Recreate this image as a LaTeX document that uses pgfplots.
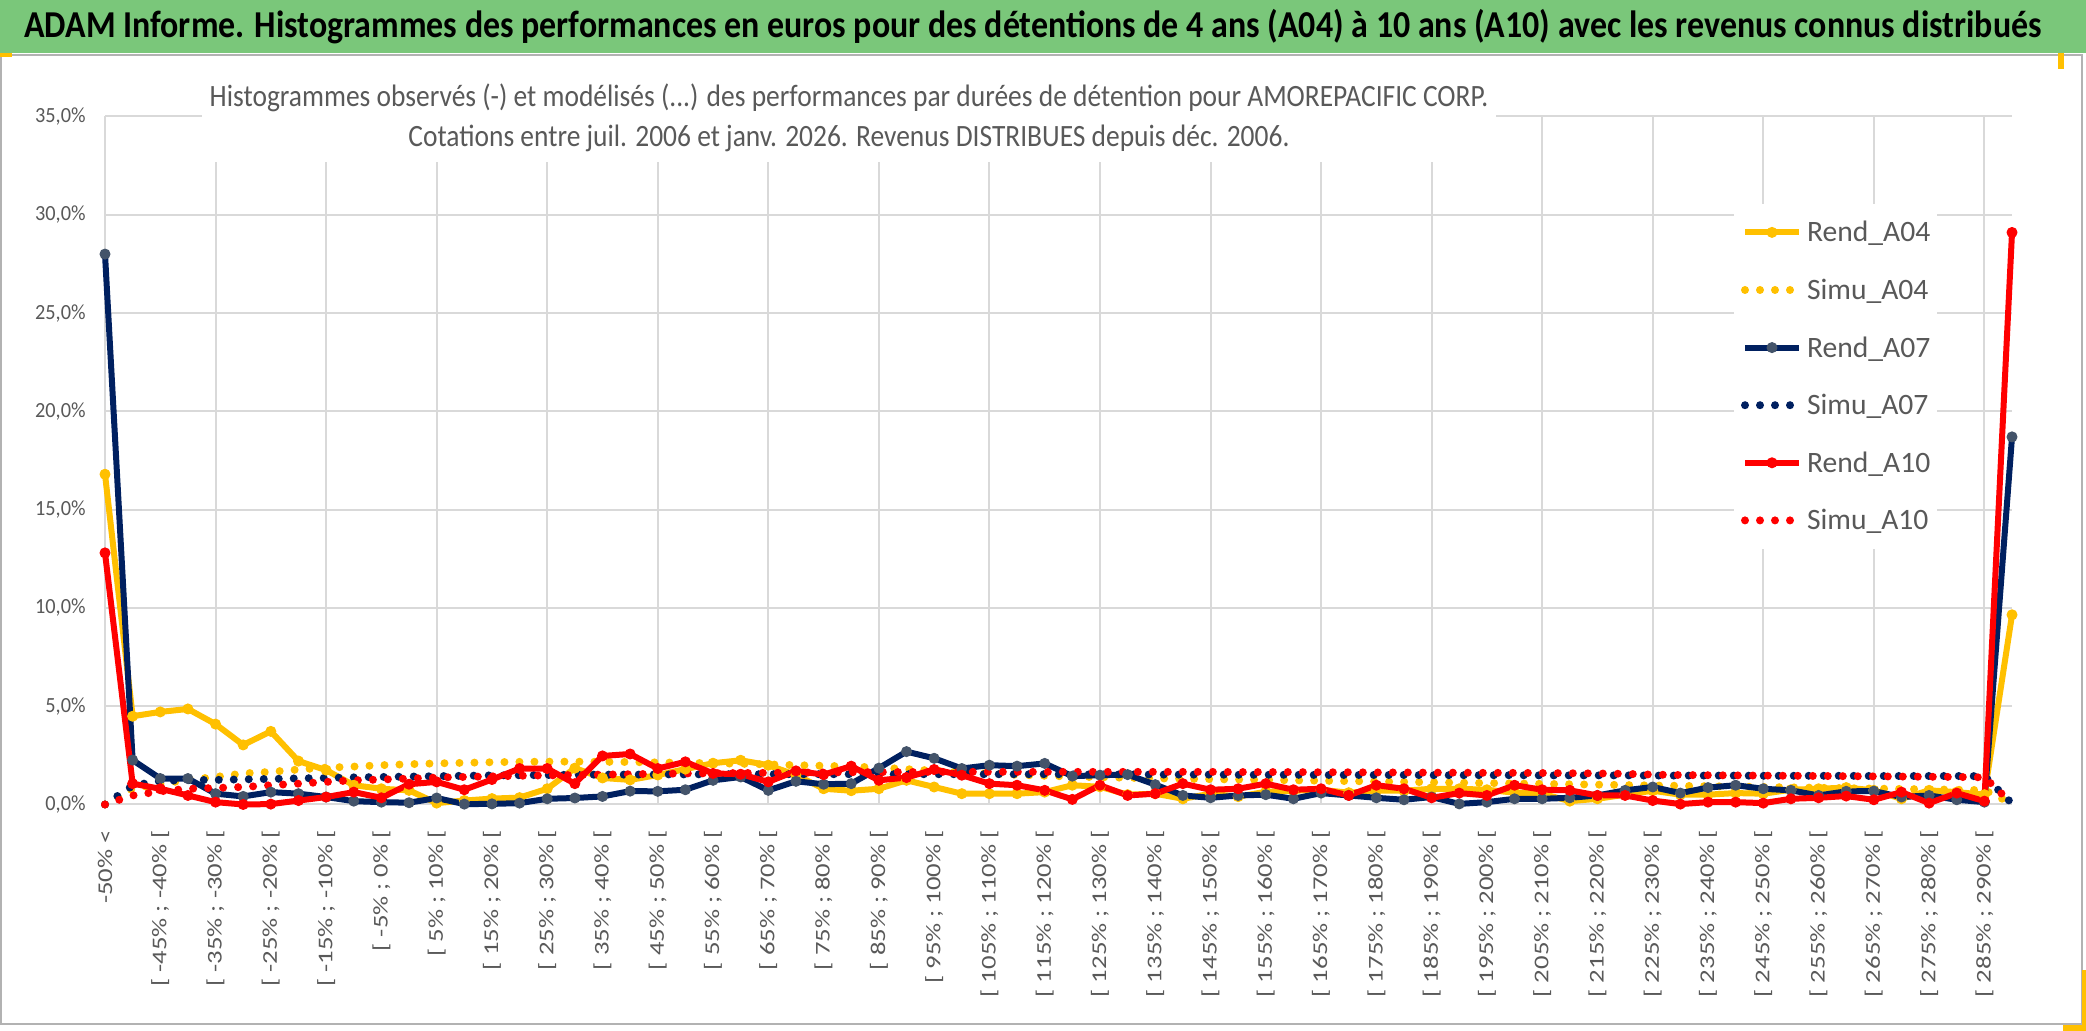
\documentclass[border=0pt]{standalone}
\usepackage{pgfplots}
\pgfplotsset{compat=1.18}
\usepackage{pgfplotstable}
\usepackage{fontspec}
\setmainfont{Carlito}
\newfontfamily\mtfam{Carlito}[FakeStretch=0.893]
\newfontfamily\ctfam{Carlito}[FakeStretch=0.886]
\newfontfamily\yfam{Carlito}[FakeStretch=0.94]
\newfontfamily\xfam{Carlito}[FakeStretch=1.27]
\newcommand\mtfont{\mtfam\bfseries\fontsize{19pt}{22pt}\selectfont}
\newcommand\ctfont{\ctfam\fontsize{15.5pt}{20pt}\selectfont}
\newcommand\yfont{\yfam\fontsize{10.8pt}{12pt}\selectfont}
\newcommand\xfont{\xfam\fontsize{10.5pt}{12pt}\selectfont}
\newcommand\legfont{\fontsize{14.8pt}{16pt}\selectfont}
\definecolor{ay}{HTML}{FFC000}
\definecolor{navy}{HTML}{002060}
\definecolor{slate}{HTML}{44546A}
\definecolor{rd}{HTML}{FF0000}
\definecolor{gridc}{HTML}{D9D9D9}
\definecolor{txt}{HTML}{595959}
\definecolor{tgreen}{RGB}{122,199,122}

\pgfplotstableread{
i RA04 SA04 RA07 SA07 RA10 SA10
0 16.8 0.00 28.0 0.00 12.8 0.00
1 4.49 0.80 2.26 0.96 1.06 0.46
2 4.71 1.05 1.32 1.20 0.80 0.67
3 4.86 1.25 1.32 1.24 0.46 0.80
4 4.09 1.40 0.55 1.25 0.12 0.84
5 3.03 1.58 0.41 1.28 0.00 0.89
6 3.72 1.66 0.63 1.30 0.02 0.98
7 2.21 1.78 0.55 1.33 0.20 1.06
8 1.75 1.87 0.38 1.35 0.38 1.15
9 0.98 1.93 0.17 1.38 0.63 1.23
10 0.80 2.00 0.12 1.40 0.34 1.27
11 0.72 2.05 0.09 1.42 1.03 1.32
12 0.07 2.09 0.33 1.44 1.15 1.37
13 0.20 2.12 0.02 1.46 0.75 1.40
14 0.30 2.15 0.03 1.48 1.27 1.43
15 0.35 2.17 0.07 1.49 1.83 1.46
16 0.80 2.18 0.29 1.50 1.83 1.48
17 1.85 2.18 0.33 1.51 1.06 1.50
18 1.35 2.17 0.41 1.52 2.47 1.52
19 1.25 2.16 0.68 1.52 2.57 1.54
20 1.50 2.14 0.67 1.53 1.83 1.56
21 1.80 2.12 0.75 1.53 2.17 1.58
22 2.10 2.10 1.23 1.54 1.58 1.59
23 2.25 2.07 1.40 1.54 1.54 1.60
24 2.00 2.04 0.72 1.54 1.15 1.61
25 1.50 2.00 1.18 1.54 1.71 1.62
26 0.80 1.97 1.03 1.54 1.52 1.63
27 0.70 1.93 1.06 1.54 1.95 1.64
28 0.80 1.88 1.85 1.54 1.23 1.65
29 1.23 1.80 2.69 1.54 1.37 1.65
30 0.89 1.72 2.35 1.54 1.78 1.66
31 0.55 1.64 1.83 1.54 1.49 1.66
32 0.55 1.57 2.00 1.54 1.06 1.66
33 0.55 1.51 1.95 1.54 0.98 1.66
34 0.63 1.46 2.09 1.54 0.72 1.66
35 0.98 1.42 1.44 1.53 0.26 1.66
36 0.90 1.39 1.49 1.53 0.98 1.66
37 0.50 1.36 1.52 1.53 0.46 1.66
38 0.55 1.33 1.01 1.52 0.55 1.66
39 0.29 1.31 0.46 1.52 1.06 1.66
40 0.55 1.29 0.34 1.52 0.75 1.66
41 0.40 1.27 0.46 1.51 0.80 1.65
42 0.65 1.25 0.50 1.51 1.06 1.65
43 0.70 1.23 0.29 1.51 0.75 1.65
44 0.75 1.21 0.58 1.50 0.80 1.64
45 0.60 1.19 0.46 1.50 0.46 1.64
46 0.70 1.17 0.34 1.50 0.98 1.63
47 0.70 1.15 0.24 1.50 0.80 1.63
48 0.80 1.13 0.38 1.49 0.34 1.62
49 0.80 1.11 0.03 1.49 0.58 1.62
50 0.75 1.09 0.12 1.49 0.46 1.61
51 0.60 1.07 0.29 1.49 0.98 1.61
52 0.55 1.05 0.29 1.48 0.75 1.60
53 0.17 1.03 0.34 1.48 0.72 1.59
54 0.29 1.01 0.46 1.48 0.46 1.58
55 0.50 0.99 0.72 1.48 0.46 1.56
56 0.70 0.97 0.89 1.47 0.20 1.52
57 0.50 0.95 0.58 1.47 0.02 1.50
58 0.50 0.93 0.86 1.47 0.12 1.49
59 0.58 0.91 0.98 1.47 0.12 1.48
60 0.55 0.89 0.80 1.46 0.07 1.47
61 0.75 0.87 0.72 1.46 0.29 1.46
62 0.80 0.85 0.46 1.46 0.34 1.45
63 0.86 0.83 0.67 1.46 0.43 1.44
64 0.72 0.81 0.68 1.45 0.24 1.43
65 0.29 0.79 0.38 1.45 0.63 1.42
66 0.72 0.77 0.46 1.45 0.07 1.41
67 0.63 0.75 0.24 1.45 0.58 1.40
68 0.50 0.73 0.12 1.44 0.17 1.38
69 9.65 0.05 18.7 0.05 29.1 0.05
}\data

\begin{document}
\begin{tikzpicture}
\useasboundingbox (0,0) rectangle (1043pt,515.5pt);
\fill[white] (0,0) rectangle (1043pt,515.5pt);
\fill[tgreen] (0,489pt) rectangle (1043pt,515.5pt);
\draw[gray!60, line width=1pt] (0.5pt,3.5pt) rectangle (1041pt,488pt);
\fill[ay] (0,487pt) rectangle (6pt,489pt);
\fill[ay] (1029pt,481pt) rectangle (1032pt,489pt);
\fill[ay] (1031.5pt,0pt) rectangle (1043pt,3pt);
\fill[ay] (1041pt,0pt) rectangle (1043pt,30.5pt);
\node[font=\mtfont, text=black, inner sep=0pt] at (516.5pt,502pt) {ADAM Informe. Histogrammes des performances en euros pour des détentions de 4 ans (A04) à 10 ans (A10) avec les revenus connus distribués};
\begin{axis}[
  at={(52.5pt,113.25pt)}, anchor=south west,
  scale only axis, width=953.5pt, height=344pt,
  xmin=0, xmax=69, ymin=0, ymax=35,
  clip=false,
  axis line style={draw=none},
  major tick length=0pt, minor tick length=0pt,
  xtick={0,2,...,68},
  xticklabels={{-50\% <},{{[} -45\% ; -40\% {[}},{{[} -35\% ; -30\% {[}},{{[} -25\% ; -20\% {[}},{{[} -15\% ; -10\% {[}},{{[} -5\% ; 0\% {[}},{{[} 5\% ; 10\% {[}},{{[} 15\% ; 20\% {[}},{{[} 25\% ; 30\% {[}},{{[} 35\% ; 40\% {[}},{{[} 45\% ; 50\% {[}},{{[} 55\% ; 60\% {[}},{{[} 65\% ; 70\% {[}},{{[} 75\% ; 80\% {[}},{{[} 85\% ; 90\% {[}},{{[} 95\% ; 100\% {[}},{{[} 105\% ; 110\% {[}},{{[} 115\% ; 120\% {[}},{{[} 125\% ; 130\% {[}},{{[} 135\% ; 140\% {[}},{{[} 145\% ; 150\% {[}},{{[} 155\% ; 160\% {[}},{{[} 165\% ; 170\% {[}},{{[} 175\% ; 180\% {[}},{{[} 185\% ; 190\% {[}},{{[} 195\% ; 200\% {[}},{{[} 205\% ; 210\% {[}},{{[} 215\% ; 220\% {[}},{{[} 225\% ; 230\% {[}},{{[} 235\% ; 240\% {[}},{{[} 245\% ; 250\% {[}},{{[} 255\% ; 260\% {[}},{{[} 265\% ; 270\% {[}},{{[} 275\% ; 280\% {[}},{{[} 285\% ; 290\% {[}}},
  minor xtick={0,4,...,68},
  xminorgrids=true, xmajorgrids=false,
  ytick={0,5,...,35},
  yticklabels={{0,0\%},{5,0\%},{10,0\%},{15,0\%},{20,0\%},{25,0\%},{30,0\%},{35,0\%}},
  ymajorgrids=true,
  grid style={draw=gridc, line width=1pt},
  minor grid style={draw=gridc, line width=1pt},
  xticklabel style={font=\xfont, text=txt, rotate=90, anchor=east, inner sep=0pt},
  xticklabel shift=12.75pt,
  yticklabel style={font=\yfont, text=txt, anchor=east, inner sep=0pt},
  yticklabel shift=9.5pt,
  legend cell align=left,
  legend style={at={(0.854,0.874)}, anchor=north west, draw=none, fill=white,
    inner xsep=3.5pt, inner ysep=0pt, font=\legfont, text=txt, row sep=0pt, column sep=2pt,
    nodes={inner sep=0pt, text height=19.2pt, text depth=9.6pt}},
  legend image code/.code={\draw[#1, mark repeat=2, mark phase=2] plot coordinates {(0pt,0pt) (13.5pt,0pt) (27pt,0pt)};},
]
\addplot[color=ay, line width=3pt, line join=round, mark=*, mark size=2.5pt, mark options={solid, line width=0.5pt, fill=ay, draw=ay}] table[x=i,y=RA04] {\data};
\addlegendentry{Rend\_A04}
\addplot[color=ay, line width=4pt, line cap=round, dash pattern=on 0pt off 7.5pt] table[x=i,y=SA04] {\data};
\addlegendentry{Simu\_A04}
\addplot[color=navy, line width=3pt, line join=round, mark=*, mark size=2.5pt, mark options={solid, line width=0.5pt, fill=slate, draw=slate}] table[x=i,y=RA07] {\data};
\addlegendentry{Rend\_A07}
\addplot[color=navy, line width=4pt, line cap=round, dash pattern=on 0pt off 7.5pt] table[x=i,y=SA07] {\data};
\addlegendentry{Simu\_A07}
\addplot[color=rd, line width=3pt, line join=round, mark=*, mark size=2.5pt, mark options={solid, line width=0.5pt, fill=rd, draw=rd}] table[x=i,y=RA10] {\data};
\addlegendentry{Rend\_A10}
\addplot[color=rd, line width=4pt, line cap=round, dash pattern=on 0pt off 7.5pt] table[x=i,y=SA10] {\data};
\addlegendentry{Simu\_A10}
\end{axis}
\node[font=\ctfont, text=txt, align=center, fill=white, inner xsep=4pt, inner ysep=5pt] at (424.5pt,456.5pt) {Histogrammes observés (-) et modélisés (...) des performances par durées de détention pour AMOREPACIFIC CORP.\\Cotations entre juil. 2006 et janv. 2026. Revenus DISTRIBUES depuis déc. 2006.};
\end{tikzpicture}
\end{document}
